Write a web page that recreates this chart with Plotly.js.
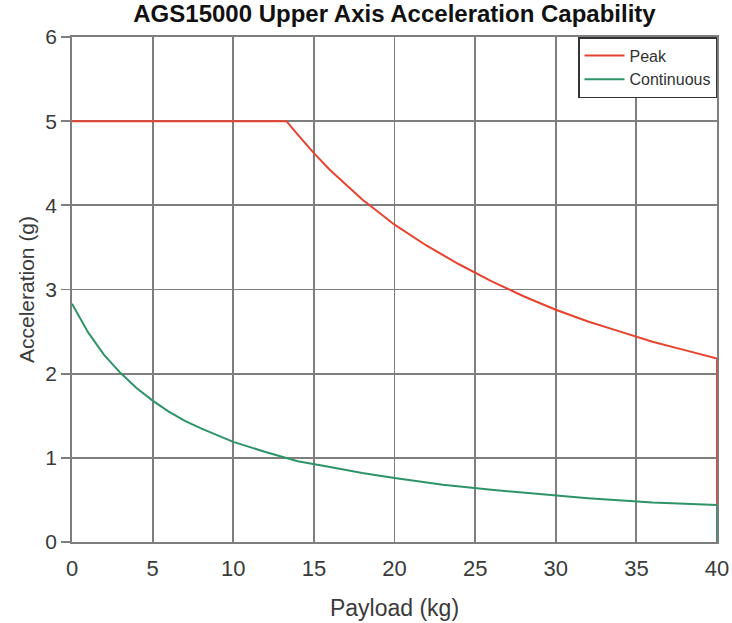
<!DOCTYPE html>
<html><head><meta charset="utf-8">
<script src="https://cdn.plot.ly/plotly-3.0.1.min.js"></script>
<style>html,body{margin:0;padding:0;background:#fff}</style>
</head><body><div id="chart" style="width:732px;height:623px"></div>
<script>
var peakX = [0, 13.3, 14, 15, 16, 17, 18, 19, 20, 22, 24, 26, 28, 30, 32, 34, 36, 38, 40, 40];
var peakY = [5, 5, 4.84, 4.62, 4.42, 4.24, 4.07, 3.92, 3.77, 3.52, 3.30, 3.10, 2.92, 2.76, 2.62, 2.50, 2.38, 2.28, 2.18, 0];
var contX = [0, 1, 2, 3, 4, 5, 6, 7, 8, 10, 12, 14, 16, 18, 20, 23, 26, 29, 32, 36, 40, 40];
var contY = [2.83, 2.49, 2.22, 2.01, 1.83, 1.68, 1.55, 1.44, 1.35, 1.19, 1.07, 0.96, 0.89, 0.82, 0.76, 0.68, 0.62, 0.57, 0.52, 0.47, 0.44, 0];
var seriesNames = ['Peak', 'Continuous'];
var xTicks = [0, 5, 10, 15, 20, 25, 30, 35, 40];
var yTicks = [0, 1, 2, 3, 4, 5, 6];

var font = 'Liberation Sans, Arial, sans-serif';
var data = [
  {x: peakX, y: peakY, name: seriesNames[0], mode: 'lines', line: {color: '#e8432f', width: 2}},
  {x: contX, y: contY, name: seriesNames[1], mode: 'lines', line: {color: '#2e9468', width: 2}}
];
var layout = {
  width: 732, height: 623,
  margin: {l: 72, r: 15, t: 37, b: 81},
  paper_bgcolor: '#fff', plot_bgcolor: '#fff',
  font: {family: font, color: '#222'},
  title: {text: '<b>AGS15000 Upper Axis Acceleration Capability</b>', font: {size: 24, family: font, color: '#111'}, x: 0.5, xref: 'paper', xanchor: 'center', y: 0.978, yanchor: 'middle'},
  xaxis: {range: [0, 40], tickvals: xTicks, ticks: '', showgrid: true, gridcolor: '#7e7e7e', gridwidth: 1.8,
    showline: true, linecolor: '#7e7e7e', linewidth: 1.8, mirror: true, zeroline: false,
    tickfont: {size: 22, color: '#3a3a3a'}, ticklabelstandoff: 6,
    title: {text: 'Payload (kg)', font: {size: 23, color: '#3a3a3a'}, standoff: 20}},
  yaxis: {range: [0, 6], tickvals: yTicks, ticks: 'outside', ticklen: 9, tickcolor: '#7e7e7e', tickwidth: 1.8,
    showgrid: true, gridcolor: '#7e7e7e', gridwidth: 1.8,
    showline: true, linecolor: '#7e7e7e', linewidth: 1.8, mirror: true, zeroline: false,
    tickfont: {size: 21, color: '#3a3a3a'},
    title: {text: 'Acceleration (g)', font: {size: 21, color: '#3a3a3a'}, standoff: 5}},
  showlegend: true,
  legend: {x: 1, xanchor: 'right', y: 1, yanchor: 'top', bgcolor: '#fff', bordercolor: '#333', borderwidth: 1.5,
    font: {size: 16, color: '#333'}, tracegroupgap: 0, itemwidth: 40}
};
Plotly.newPlot('chart', data, layout, {displayModeBar: false, staticPlot: true});
</script></body></html>
